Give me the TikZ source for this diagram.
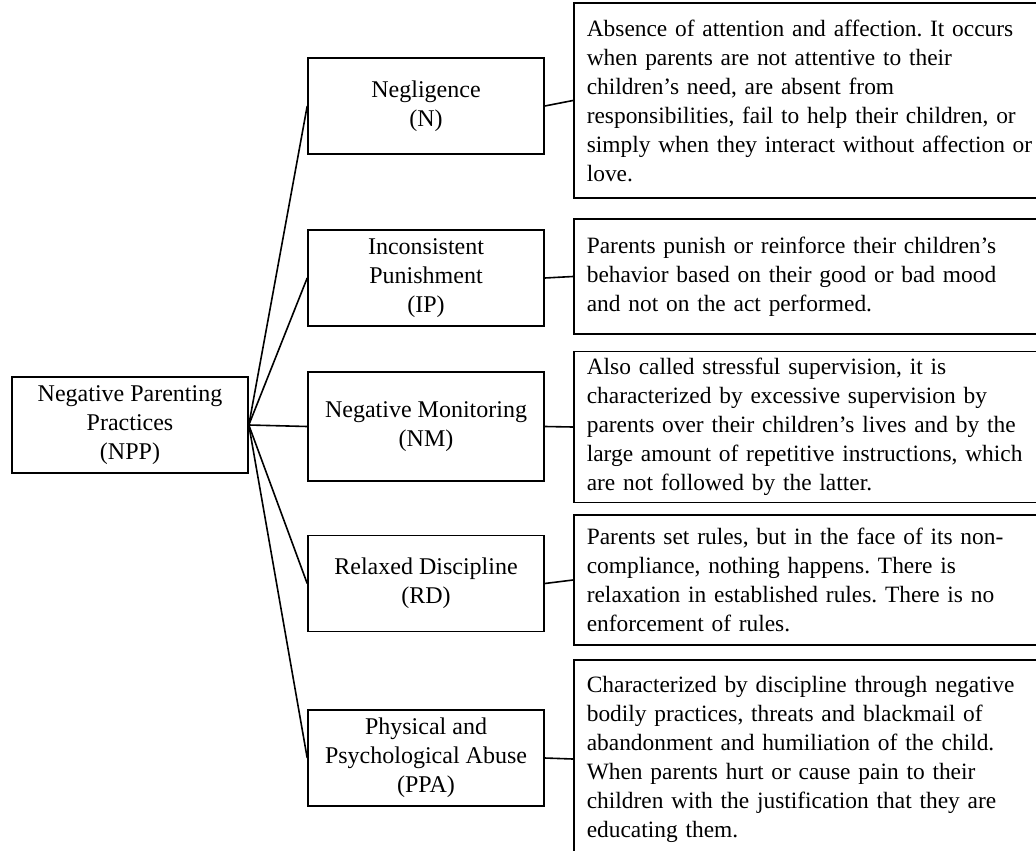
\documentclass[tikz,border=0pt]{standalone}
\usepackage{fontspec}
\setmainfont{Liberation Serif}
\DeclareRobustCommand\descfont{\fontsize{11.7pt}{14.5pt}\selectfont\frenchspacing\spaceskip=0.22em plus 0.1em\relax}

\begin{document}
\begin{tikzpicture}[
    x=0.5pt, y=-0.5pt, line width=0.8pt,
    every node/.style={font=\fontsize{12pt}{14.5pt}\selectfont\frenchspacing},
    catbox/.style={draw, align=center, minimum width=118pt, minimum height=48pt},
    descbox/.style={draw, align=left, text width=235pt, inner xsep=6.5pt, anchor=west, font=\descfont}
]
    \useasboundingbox (0,0) rectangle (1036,850);
    \clip (0,0) rectangle (1036,850);

    \node[catbox] (npp) at (130,425) {Negative Parenting\\Practices\\(NPP)};

    \node[catbox] (n) at (426,106) {Negligence\\(N)};
    \node[catbox] (ip) at (426,278) {Inconsistent\\Punishment\\(IP)};
    \node[catbox, minimum height=54.5pt] (nm) at (426,426.5) {Negative Monitoring\\(NM)};
    \node[catbox] (rd) at (426,583.5) {Relaxed Discipline\\(RD)};
    \node[catbox] (ppa) at (426,758) {Physical and\\Psychological Abuse\\(PPA)};

    \node[descbox, minimum height=97.5pt] (n-desc) at (573,100.5) {Absence of attention and affection. It occurs\\when parents are not attentive to their\\children's need, are absent from\\responsibilities, fail to help their children, or\\simply when they interact without affection or\\love.};
    \node[descbox, minimum height=57.5pt] (ip-desc) at (573,276.5) {Parents punish or reinforce their children's\\behavior based on their good or bad mood\\and not on the act performed.};
    \node[descbox, minimum height=74pt] (nm-desc) at (573,427) {Also called stressful supervision, it is\\characterized by excessive supervision by\\parents over their children's lives and by the\\large amount of repetitive instructions, which\\are not followed by the latter.};
    \node[descbox, minimum height=65pt] (rd-desc) at (573,580) {Parents set rules, but in the face of its non-\\compliance, nothing happens. There is\\relaxation in established rules. There is no\\enforcement of rules.};
    \node[descbox, minimum height=99pt] (ppa-desc) at (573,759) {Characterized by discipline through negative\\bodily practices, threats and blackmail of\\abandonment and humiliation of the child.\\When parents hurt or cause pain to their\\children with the justification that they are\\educating them.};

    % fan out from the root, then across to the descriptions
    \foreach \c in {n,ip,nm,rd,ppa} {
        \draw (npp.east) -- (\c.west);
        \draw (\c.east) -- (\c-desc.west);
    }
\end{tikzpicture}
\end{document}
